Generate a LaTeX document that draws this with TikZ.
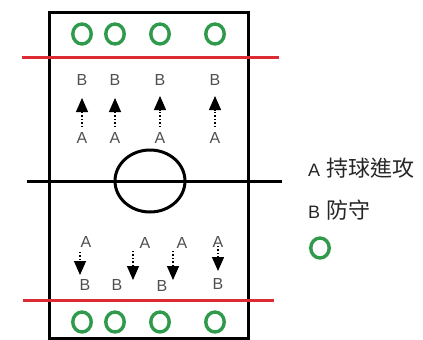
\documentclass[tikz,border=0pt]{standalone}
\usepackage{fontspec}
\setmainfont{Liberation Sans}
\newfontfamily\cjk{Noto Sans CJK TC}
\usepackage{xcolor}
\definecolor{cRed}{HTML}{DC2B33}
\definecolor{cGreen}{HTML}{2F9A4C}
\definecolor{cText}{HTML}{505050}
\usetikzlibrary{arrows.meta,shapes.geometric}
\tikzset{
  court-line/.style={line width=3pt,draw=black},
  zone-line/.style={line width=3pt,draw=cRed},
  player-ring/.style={draw=cGreen,line width=3.4pt,ellipse,
    minimum width=18.5pt,minimum height=20pt,inner sep=0pt},
  player-tag/.style={text=cText,font=\fontsize{16}{16}\selectfont,inner sep=0pt},
  move-arrow/.style={-{Triangle[length=14pt,width=12pt]},dotted,line width=1.4pt},
  legend-text/.style={anchor=west,inner sep=0pt,text=black!85,
    font=\fontsize{18}{18}\selectfont},
}
\begin{document}
\begin{tikzpicture}[x=1pt,y=-1pt]
  \useasboundingbox (0,0) rectangle (423,340);
  % court
  \draw[court-line] (49,12) rectangle (248,338);
  \draw[court-line] (27,181) -- (282,181);
  \draw[court-line] (150,181) ellipse[x radius=35,y radius=31];
  \draw[zone-line] (22,57) -- (279,57);
  \draw[zone-line] (23,300) -- (274,300);
  % rings
  \node[player-ring] (rt1) at (82,34) {};
  \node[player-ring] (rt2) at (115,34) {};
  \node[player-ring] (rt3) at (160,34) {};
  \node[player-ring] (rt4) at (215,34) {};
  \node[player-ring] (rb1) at (82,322) {};
  \node[player-ring] (rb2) at (115,322) {};
  \node[player-ring] (rb3) at (160,322) {};
  \node[player-ring] (rb4) at (215,322) {};
  % upper half
  \node[player-tag] (tb1) at (82,80) {B};
  \node[player-tag] (tb2) at (115,80) {B};
  \node[player-tag] (tb3) at (160,80) {B};
  \node[player-tag] (tb4) at (215,80) {B};
  \node[player-tag] (ta1) at (82,138) {A};
  \node[player-tag] (ta2) at (115,138) {A};
  \node[player-tag] (ta3) at (160,138) {A};
  \node[player-tag] (ta4) at (215,138) {A};
  \coordinate (u1) at (82,127);  \coordinate (v1) at (82,98);
  \coordinate (u2) at (115,127); \coordinate (v2) at (115,98);
  \coordinate (u3) at (160,127); \coordinate (v3) at (160,96);
  \coordinate (u4) at (215,127); \coordinate (v4) at (215,96);
  \draw[move-arrow] (u1) -- (v1);
  \draw[move-arrow] (u2) -- (v2);
  \draw[move-arrow] (u3) -- (v3);
  \draw[move-arrow] (u4) -- (v4);
  % lower half
  \node[player-tag] (ba1) at (86,242) {A};
  \node[player-tag] (ba2) at (145,243) {A};
  \node[player-tag] (ba3) at (182,243) {A};
  \node[player-tag] (ba4) at (218,242) {A};
  \node[player-tag] (bb1) at (85,285) {B};
  \node[player-tag] (bb2) at (117,285) {B};
  \node[player-tag] (bb3) at (162,286) {B};
  \node[player-tag] (bb4) at (218,284) {B};
  \coordinate (s1) at (80,252);  \coordinate (e1) at (80,275);
  \coordinate (s2) at (133,251); \coordinate (e2) at (133,280);
  \coordinate (s3) at (173,251); \coordinate (e3) at (173,280);
  \coordinate (s4) at (218,246); \coordinate (e4) at (218,271);
  \draw[move-arrow] (s1) -- (e1);
  \draw[move-arrow] (s2) -- (e2);
  \draw[move-arrow] (s3) -- (e3);
  \draw[move-arrow] (s4) -- (e4);
  % legend
  \node[legend-text] (leg-a) at (308,168)
    {A\hspace{6pt}{\cjk\fontsize{22}{22}\selectfont 持球進攻}};
  \node[legend-text] (leg-b) at (308,210)
    {B\hspace{6pt}{\cjk\fontsize{22}{22}\selectfont 防守}};
  \node[player-ring] (leg-ring) at (320,248) {};
\end{tikzpicture}
\end{document}
